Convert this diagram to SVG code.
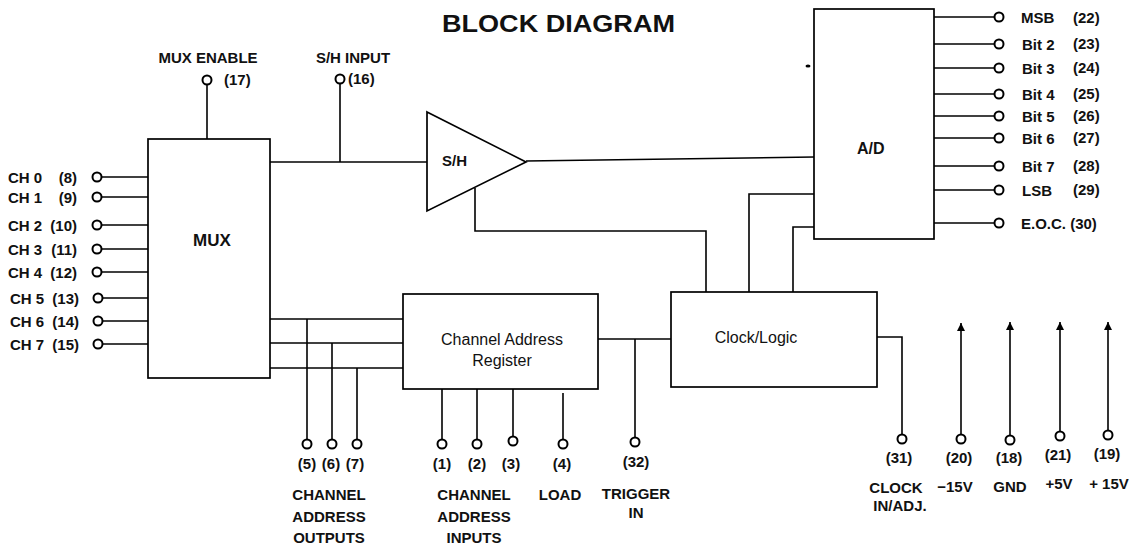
<svg xmlns="http://www.w3.org/2000/svg" width="1133" height="544" viewBox="0 0 1133 544">
<style>
.ln{stroke:#000;stroke-width:1.6;fill:none}
.blk{fill:none;stroke:#000;stroke-width:1.7}
.pin{fill:#fff;stroke:#000;stroke-width:2}
.lbl{font-family:"Liberation Sans",Arial,sans-serif;font-weight:bold;font-size:15px;fill:#111}
.mid{text-anchor:middle}
.end{text-anchor:end}
.reg{font-family:"Liberation Sans",Arial,sans-serif;font-size:16px;fill:#111}
</style>
<defs>
<marker id="arr" viewBox="0 0 10 10" refX="10" refY="5" markerWidth="10" markerHeight="8" markerUnits="userSpaceOnUse" orient="auto">
<path d="M0,0 L10,5 L0,10 z" fill="#000"/>
</marker>
</defs>
<rect width="1133" height="544" fill="#fff"/>
<text class="lbl" x="442" y="32" style="font-size:24px" textLength="233" lengthAdjust="spacingAndGlyphs">BLOCK DIAGRAM</text>

<g id="connectors">
<line class="ln" x1="207" y1="85" x2="207" y2="139"/>
<line class="ln" x1="101" y1="177" x2="148" y2="177"/>
<line class="ln" x1="101" y1="197" x2="148" y2="197"/>
<line class="ln" x1="101" y1="225" x2="148" y2="225"/>
<line class="ln" x1="101" y1="249" x2="148" y2="249"/>
<line class="ln" x1="101" y1="272" x2="148" y2="272"/>
<line class="ln" x1="102" y1="298" x2="148" y2="298"/>
<line class="ln" x1="102" y1="321" x2="148" y2="321"/>
<line class="ln" x1="102" y1="344" x2="148" y2="344"/>
<line class="ln" x1="270" y1="162" x2="427" y2="162"/>
<line class="ln" x1="340" y1="84" x2="340" y2="162"/>
<line class="ln" x1="526" y1="161" x2="814" y2="157"/>
<polyline class="ln" points="475,188 475,231 706,231 706,292"/>
<polyline class="ln" points="749,292 749,194 814,194"/>
<polyline class="ln" points="793,292 793,227 814,227"/>
<line class="ln" x1="270" y1="319" x2="403" y2="319"/>
<line class="ln" x1="270" y1="343" x2="403" y2="343"/>
<line class="ln" x1="270" y1="368" x2="403" y2="368"/>
<line class="ln" x1="307" y1="319" x2="307" y2="439"/>
<line class="ln" x1="332" y1="343" x2="332" y2="439"/>
<line class="ln" x1="357" y1="368" x2="357" y2="439"/>
<line class="ln" x1="442" y1="389" x2="442" y2="439"/>
<line class="ln" x1="477" y1="389" x2="477" y2="439"/>
<line class="ln" x1="513" y1="389" x2="513" y2="436"/>
<line class="ln" x1="563" y1="393" x2="563" y2="439"/>
<line class="ln" x1="598" y1="339" x2="671" y2="339"/>
<line class="ln" x1="635" y1="339" x2="635" y2="437"/>
<polyline class="ln" points="877,337 902,337 902,434"/>
<line class="ln" x1="934" y1="17" x2="994" y2="17"/>
<line class="ln" x1="934" y1="44" x2="994" y2="44"/>
<line class="ln" x1="934" y1="68" x2="994" y2="68"/>
<line class="ln" x1="934" y1="94" x2="994" y2="94"/>
<line class="ln" x1="934" y1="116" x2="994" y2="116"/>
<line class="ln" x1="934" y1="138" x2="994" y2="138"/>
<line class="ln" x1="934" y1="166" x2="994" y2="166"/>
<line class="ln" x1="934" y1="190" x2="994" y2="190"/>
<line class="ln" x1="934" y1="223" x2="994" y2="223"/>
<line class="ln" x1="961" y1="434" x2="961" y2="323" marker-end="url(#arr)"/>
<line class="ln" x1="1010" y1="435" x2="1010" y2="322" marker-end="url(#arr)"/>
<line class="ln" x1="1060" y1="431" x2="1060" y2="322" marker-end="url(#arr)"/>
<line class="ln" x1="1108" y1="430" x2="1108" y2="322" marker-end="url(#arr)"/>
</g>

<g id="mux">
<rect class="blk" x="148" y="139" width="122" height="239"/>
<text class="lbl mid" x="212" y="246" style="font-size:17px">MUX</text>
</g>
<g id="sh">
<polygon class="blk" points="427,112 526,162 427,211"/>
<text class="lbl" x="442" y="166">S/H</text>
</g>
<g id="ad">
<rect class="blk" x="814" y="9" width="120" height="230"/>
<text class="lbl" x="857" y="154" style="font-size:16px">A/D</text>
<ellipse cx="808" cy="66" rx="2.5" ry="1.5" fill="#000"/>
</g>
<g id="register">
<rect class="blk" x="403" y="294" width="195" height="95"/>
<text class="reg mid" x="502" y="345">Channel Address</text>
<text class="reg mid" x="502" y="366">Register</text>
</g>
<g id="clocklogic">
<rect class="blk" x="671" y="292" width="206" height="95"/>
<text class="reg mid" x="756" y="343">Clock/Logic</text>
</g>

<g id="pin-mux-enable">
<circle class="pin" cx="207" cy="80" r="4.5"/>
<text class="lbl mid" x="208" y="63">MUX ENABLE</text>
<text class="lbl" x="224" y="85">(17)</text>
</g>
<g id="pin-sh-input">
<circle class="pin" cx="340" cy="79" r="4.5"/>
<text class="lbl mid" x="353" y="63">S/H INPUT</text>
<text class="lbl" x="348" y="84">(16)</text>
</g>

<g id="pins-channels">
<circle class="pin" cx="97" cy="177" r="4.5"/>
<circle class="pin" cx="97" cy="197" r="4.5"/>
<circle class="pin" cx="97" cy="225" r="4.5"/>
<circle class="pin" cx="97" cy="249" r="4.5"/>
<circle class="pin" cx="97" cy="272" r="4.5"/>
<circle class="pin" cx="98" cy="298" r="4.5"/>
<circle class="pin" cx="98" cy="321" r="4.5"/>
<circle class="pin" cx="98" cy="344" r="4.5"/>
<text class="lbl" x="8" y="183">CH 0</text><text class="lbl end" x="77" y="183">(8)</text>
<text class="lbl" x="8" y="203">CH 1</text><text class="lbl end" x="77" y="203">(9)</text>
<text class="lbl" x="8" y="231">CH 2</text><text class="lbl end" x="77" y="231">(10)</text>
<text class="lbl" x="8" y="255">CH 3</text><text class="lbl end" x="77" y="255">(11)</text>
<text class="lbl" x="8" y="278">CH 4</text><text class="lbl end" x="77" y="278">(12)</text>
<text class="lbl" x="10" y="304">CH 5</text><text class="lbl end" x="79" y="304">(13)</text>
<text class="lbl" x="10" y="327">CH 6</text><text class="lbl end" x="79" y="327">(14)</text>
<text class="lbl" x="10" y="350">CH 7</text><text class="lbl end" x="79" y="350">(15)</text>
</g>

<g id="pins-outputs">
<circle class="pin" cx="999" cy="17" r="4.5"/>
<circle class="pin" cx="999" cy="44" r="4.5"/>
<circle class="pin" cx="999" cy="68" r="4.5"/>
<circle class="pin" cx="999" cy="94" r="4.5"/>
<circle class="pin" cx="999" cy="116" r="4.5"/>
<circle class="pin" cx="999" cy="138" r="4.5"/>
<circle class="pin" cx="999" cy="166" r="4.5"/>
<circle class="pin" cx="999" cy="190" r="4.5"/>
<circle class="pin" cx="999" cy="223" r="4.5"/>
<text class="lbl" x="1021" y="23">MSB</text><text class="lbl" x="1073" y="23">(22)</text>
<text class="lbl" x="1022" y="50">Bit 2</text><text class="lbl" x="1073" y="49">(23)</text>
<text class="lbl" x="1022" y="74">Bit 3</text><text class="lbl" x="1073" y="73">(24)</text>
<text class="lbl" x="1022" y="100">Bit 4</text><text class="lbl" x="1073" y="99">(25)</text>
<text class="lbl" x="1022" y="122">Bit 5</text><text class="lbl" x="1073" y="121">(26)</text>
<text class="lbl" x="1022" y="144">Bit 6</text><text class="lbl" x="1073" y="143">(27)</text>
<text class="lbl" x="1022" y="172">Bit 7</text><text class="lbl" x="1073" y="171">(28)</text>
<text class="lbl" x="1022" y="196">LSB</text><text class="lbl" x="1073" y="195">(29)</text>
<text class="lbl" x="1021" y="229">E.O.C. (30)</text>
</g>

<g id="pins-address-outputs">
<circle class="pin" cx="307" cy="444" r="4.5"/>
<circle class="pin" cx="332" cy="444" r="4.5"/>
<circle class="pin" cx="357" cy="444" r="4.5"/>
<text class="lbl mid" x="307" y="469">(5)</text>
<text class="lbl mid" x="331" y="469">(6)</text>
<text class="lbl mid" x="355" y="469">(7)</text>
<text class="lbl mid" x="329" y="500">CHANNEL</text>
<text class="lbl mid" x="329" y="522">ADDRESS</text>
<text class="lbl mid" x="329" y="543">OUTPUTS</text>
</g>
<g id="pins-address-inputs">
<circle class="pin" cx="442" cy="444" r="4.5"/>
<circle class="pin" cx="477" cy="444" r="4.5"/>
<circle class="pin" cx="513" cy="441" r="4.5"/>
<text class="lbl mid" x="442" y="469">(1)</text>
<text class="lbl mid" x="477" y="469">(2)</text>
<text class="lbl mid" x="511" y="469">(3)</text>
<text class="lbl mid" x="474" y="500">CHANNEL</text>
<text class="lbl mid" x="474" y="522">ADDRESS</text>
<text class="lbl mid" x="474" y="543">INPUTS</text>
</g>
<g id="pin-load">
<circle class="pin" cx="563" cy="444" r="4.5"/>
<text class="lbl mid" x="562" y="469">(4)</text>
<text class="lbl mid" x="560" y="500">LOAD</text>
</g>
<g id="pin-trigger">
<circle class="pin" cx="635" cy="442" r="4.5"/>
<text class="lbl mid" x="636" y="467">(32)</text>
<text class="lbl mid" x="636" y="499">TRIGGER</text>
<text class="lbl mid" x="636" y="518">IN</text>
</g>
<g id="pin-clock">
<circle class="pin" cx="902" cy="439" r="4.5"/>
<text class="lbl mid" x="899" y="463">(31)</text>
<text class="lbl mid" x="896" y="493">CLOCK</text>
<text class="lbl mid" x="900" y="511">IN/ADJ.</text>
</g>
<g id="pin-m15">
<circle class="pin" cx="961" cy="439" r="4.5"/>
<text class="lbl mid" x="959" y="463">(20)</text>
<text class="lbl mid" x="955" y="492">−15V</text>
</g>
<g id="pin-gnd">
<circle class="pin" cx="1010" cy="440" r="4.5"/>
<text class="lbl mid" x="1009" y="463">(18)</text>
<text class="lbl mid" x="1010" y="492">GND</text>
</g>
<g id="pin-p5">
<circle class="pin" cx="1060" cy="436" r="4.5"/>
<text class="lbl mid" x="1058" y="460">(21)</text>
<text class="lbl mid" x="1059" y="489">+5V</text>
</g>
<g id="pin-p15">
<circle class="pin" cx="1108" cy="435" r="4.5"/>
<text class="lbl mid" x="1107" y="459">(19)</text>
<text class="lbl mid" x="1109" y="489">+ 15V</text>
</g>
</svg>
